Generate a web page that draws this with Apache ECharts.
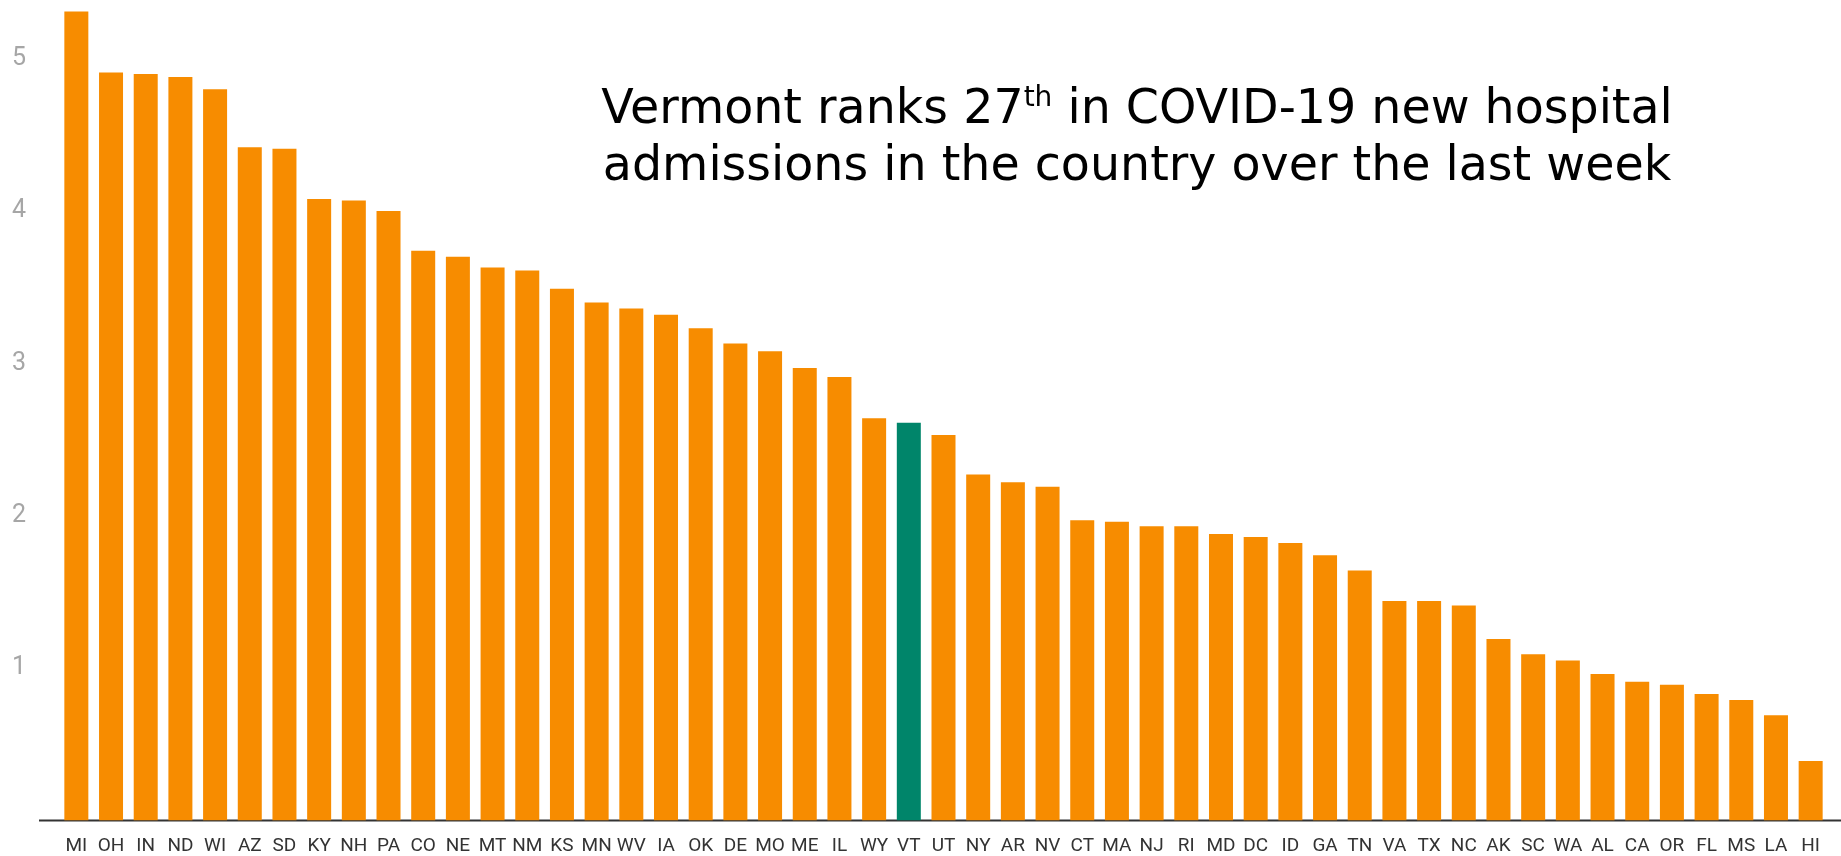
<!DOCTYPE html>
<html>
<head>
<meta charset="utf-8">
<script src="https://cdn.jsdelivr.net/npm/echarts@6/dist/echarts.min.js"></script>
<style>
html,body{margin:0;padding:0;background:#fff;}
#chart{width:1841px;height:856px;}
</style>
</head>
<body>
<div id="chart"></div>
<script>
const states = ['MI','OH','IN','ND','WI','AZ','SD','KY','NH','PA','CO','NE','MT','NM','KS','MN','WV','IA','OK','DE','MO','ME','IL','WY','VT','UT','NY','AR','NV','CT','MA','NJ','RI','MD','DC','ID','GA','TN','VA','TX','NC','AK','SC','WA','AL','CA','OR','FL','MS','LA','HI'];
const admissions = [5.31,4.91,4.90,4.88,4.80,4.42,4.41,4.08,4.07,4.00,3.74,3.70,3.63,3.61,3.49,3.40,3.36,3.32,3.23,3.13,3.08,2.97,2.91,2.64,2.61,2.53,2.27,2.22,2.19,1.97,1.96,1.93,1.93,1.88,1.86,1.82,1.74,1.64,1.44,1.44,1.41,1.19,1.09,1.05,0.96,0.91,0.89,0.83,0.79,0.69,0.39];
const highlightState = 'VT';
const yTicks = [1,2,3,4,5];

const chart = echarts.init(document.getElementById('chart'));
chart.setOption({
  animation: false,
  backgroundColor: '#ffffff',
  title: {
    text: 'Vermont ranks 27{sup|th} in COVID-19 new hospital\nadmissions in the country over the last week',
    left: 1132,
    top: 77,
    textAlign: 'center',
    textStyle: {
      fontFamily: 'DejaVu Sans',
      fontSize: 47.5,
      fontWeight: 'normal',
      color: '#000',
      lineHeight: 57,
      align: 'center',
      rich: {
        sup: {fontFamily: 'DejaVu Sans', fontSize: 28, color: '#000', padding: [0,0,24,0]}
      }
    }
  },
  grid: {left: 59, right: 13, top: 5.5, bottom: 35.7, containLabel: false},
  xAxis: {
    type: 'category',
    data: states,
    axisLine: {show: false},
    axisTick: {show: false},
    axisLabel: {interval: 0, color: '#333', fontFamily: 'Roboto', fontSize: 19, margin: 16}
  },
  yAxis: {
    type: 'value',
    min: 0,
    max: 5.35,
    interval: 1,
    splitLine: {show: false},
    axisLine: {show: false},
    axisTick: {show: false},
    axisLabel: {
      color: '#a6a6a6', fontFamily: 'Roboto', fontSize: 25, margin: 33, align: 'right',
      formatter: v => yTicks.indexOf(v) >= 0 ? String(v) : ''
    }
  },
  series: [{
    type: 'bar',
    barWidth: 24,
    data: states.map((s, i) => ({
      value: admissions[i],
      itemStyle: {color: s === highlightState ? '#00856A' : '#F78C00'}
    }))
  }],
  graphic: [{
    type: 'line',
    shape: {x1: 39, y1: 820.5, x2: 1841, y2: 820.5},
    style: {stroke: '#333', lineWidth: 2}
  }]
});
</script>
</body>
</html>
